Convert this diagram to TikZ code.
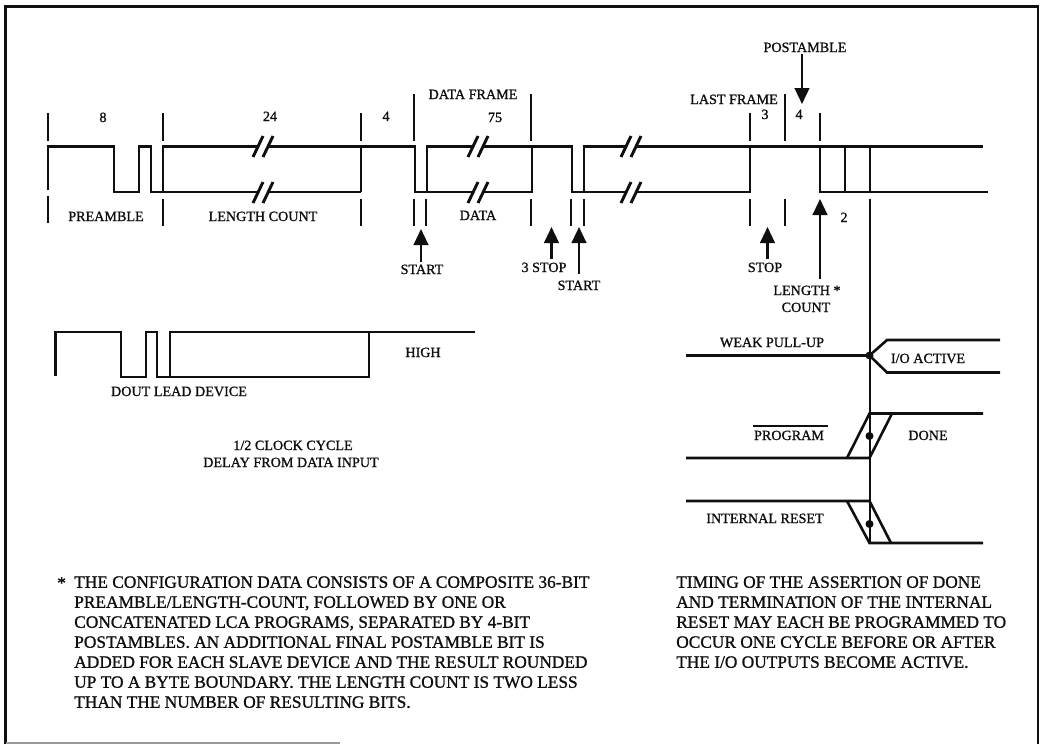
\documentclass[tikz,border=0pt]{standalone}
\usepackage{fontspec}
\setmainfont{Liberation Serif}[FakeBold=1.1]
\usetikzlibrary{arrows.meta}
\definecolor{ink}{gray}{0.06}
\tikzset{
  sig/.style={draw=ink,line width=1.95pt,line join=miter,line cap=butt},
  thin sig/.style={draw=ink,line width=1.6pt},
  tickm/.style={draw=ink,line width=1.9pt},
  slash/.style={draw=ink,line width=2.2pt},
  upar/.style={draw=ink,line width=1.7pt,-{Triangle[length=12pt,width=11pt]}},
  lab/.style={inner sep=0pt,anchor=base,text=ink,font=\fontsize{10.6}{12}\selectfont},
  para/.style={inner sep=0pt,anchor=north west,align=left,text=ink,font=\fontsize{13}{15}\selectfont},
  dotm/.style={circle,fill=ink,inner sep=0pt,minimum size=6pt}
}
\begin{document}
\begin{tikzpicture}[x=0.75pt,y=-0.75pt]
\useasboundingbox (0,0) rectangle (1041,744);
% frame
\draw[draw=ink,line width=2pt] (5.5,744) -- (5.5,6.5) -- (1038,6.5) -- (1038,744);
\draw[draw=black!40,line width=1.2pt] (5.5,743.2) -- (340,743.2);

% upper waveform
\draw[sig] (48,190) -- (48,146.5) -- (114,146.5) -- (114,192) -- (139,192) -- (139,146.5) -- (151,146.5) -- (151,192) -- (361,192);
\draw[sig] (163,192) -- (163,146.5) -- (415,146.5) -- (415,192) -- (427,192) -- (427,146.5) -- (572,146.5) -- (572,192) -- (584,192) -- (584,146.5) -- (983,146.5);
\draw[sig] (361,146.5) -- (361,192);
\draw[sig] (427,192) -- (532,192) -- (532,146.5);
\draw[sig] (584,192) -- (750,192) -- (750,146.5);
\draw[sig] (820,146.5) -- (820,192) -- (988,192);
\draw[thin sig] (845,146.5) -- (845,192);
\draw[thin sig] (870,146.5) -- (870,192);

% breaks
\foreach \xa in {253,468,621}{
  \fill[white] (\xa+5,140) rectangle (\xa+16,152);
  \fill[white] (\xa+5,186) rectangle (\xa+16,198);
  \draw[slash] (\xa,157) -- (\xa+10,136);
  \draw[slash] (\xa+10,157) -- (\xa+20,136);
  \draw[slash] (\xa,203) -- (\xa+10,182);
  \draw[slash] (\xa+10,203) -- (\xa+20,182);
}

% ticks
\foreach \xa/\ya in {48/113,163/113,361/113,414/94,531/94,750/113,785/94,820/113}{
  \draw[tickm] (\xa,\ya) -- (\xa,141);
}
\draw[tickm] (48,196) -- (48,223);
\foreach \xa in {163,361,414,426,531,571,584,750,785}{
  \draw[tickm] (\xa,199) -- (\xa,226);
}
% long vertical
\draw[thin sig] (870,199) -- (870,543);

% arrows
\coordinate (a1s) at (421,262); \coordinate (a1e) at (421,229);
\coordinate (a2s) at (551.5,259); \coordinate (a2e) at (551.5,227);
\coordinate (a3s) at (579,274); \coordinate (a3e) at (579,227);
\coordinate (a4s) at (767.5,259); \coordinate (a4e) at (767.5,227);
\coordinate (a5s) at (820,279); \coordinate (a5e) at (820,199);
\coordinate (a6s) at (802,54); \coordinate (a6e) at (802,104);
\foreach \n in {1,...,6}{ \draw[upar] (a\n s) -- (a\n e); }

% labels
\node[lab] (n8) at (103,122) {8};
\node[lab] (n24) at (270,121) {24};
\node[lab] (n4a) at (386,121) {4};
\node[lab] (n75) at (495,122) {75};
\node[lab] (df) at (473,99) {DATA FRAME};
\node[lab] (pre) at (106,221) {PREAMBLE};
\node[lab] (lc) at (263,221) {LENGTH COUNT};
\node[lab] (dat) at (478,220) {DATA};
\node[lab] (st1) at (422,274) {START};
\node[lab] (stp3) at (544,272) {3 STOP};
\node[lab] (st2) at (579,290) {START};
\node[lab] (stp) at (765,272) {STOP};
\node[lab] (lcs) at (807,295) {LENGTH *};
\node[lab] (cnt) at (806,312) {COUNT};
\node[lab] (two) at (844,222) {2};
\node[lab] (pst) at (805,52) {POSTAMBLE};
\node[lab] (lf) at (734,104) {LAST FRAME};
\node[lab] (n3) at (765,119) {3};
\node[lab] (n4b) at (799,119) {4};

% DOUT waveform
\draw[sig] (55.5,376) -- (55.5,332) -- (121,332) -- (121,377) -- (146,377) -- (146,332) -- (157,332) -- (157,377) -- (369,377) -- (369,332);
\draw[sig] (170,377) -- (170,332) -- (475,332);
\node[lab] (dl) at (179,396) {DOUT LEAD DEVICE};
\node[lab] (hi) at (423,357) {HIGH};
\node[lab] (ck) at (293,450) {1/2 CLOCK CYCLE};
\node[lab] (dy) at (291,467) {DELAY FROM DATA INPUT};

% right-hand signals
\draw[sig] (686,355.5) -- (869.5,355.5) -- (887,340) -- (1000,340);
\draw[sig] (869.5,355.5) -- (887,372.5) -- (1000,372.5);
\node[dotm] (d1) at (869.5,355.5) {};
\node[lab] (wk) at (772,347) {WEAK PULL-UP};
\node[lab] (io) at (928,363) {I/O ACTIVE};

\draw[sig] (686,458) -- (869.5,458) -- (892,413.5);
\draw[sig] (847,458) -- (869.5,413.5) -- (983,413.5);
\node[dotm] (d2) at (869.5,436) {};
\node[lab] (pg) at (789,440) {PROGRAM};
\draw[draw=ink,line width=1.2pt] (753,426) -- (828,426);
\node[lab] (dn) at (928,440) {DONE};

\draw[sig] (686,501) -- (869.5,501) -- (891,543);
\draw[sig] (847,501) -- (869.5,543) -- (983,543);
\node[dotm] (d3) at (869.5,524) {};
\node[lab] (ir) at (765,523) {INTERNAL RESET};

% notes
\node[para] (star) at (57,577) {*};
\node[para] (nl) at (74,576) {THE CONFIGURATION DATA CONSISTS OF A COMPOSITE 36-BIT\\
PREAMBLE/LENGTH-COUNT, FOLLOWED BY ONE OR\\
CONCATENATED LCA PROGRAMS, SEPARATED BY 4-BIT\\
POSTAMBLES. AN ADDITIONAL FINAL POSTAMBLE BIT IS\\
ADDED FOR EACH SLAVE DEVICE AND THE RESULT ROUNDED\\
UP TO A BYTE BOUNDARY. THE LENGTH COUNT IS TWO LESS\\
THAN THE NUMBER OF RESULTING BITS.};
\node[para] (nr) at (676,576) {TIMING OF THE ASSERTION OF DONE\\
AND TERMINATION OF THE INTERNAL\\
RESET MAY EACH BE PROGRAMMED TO\\
OCCUR ONE CYCLE BEFORE OR AFTER\\
THE I/O OUTPUTS BECOME ACTIVE.};
\end{tikzpicture}
\end{document}
